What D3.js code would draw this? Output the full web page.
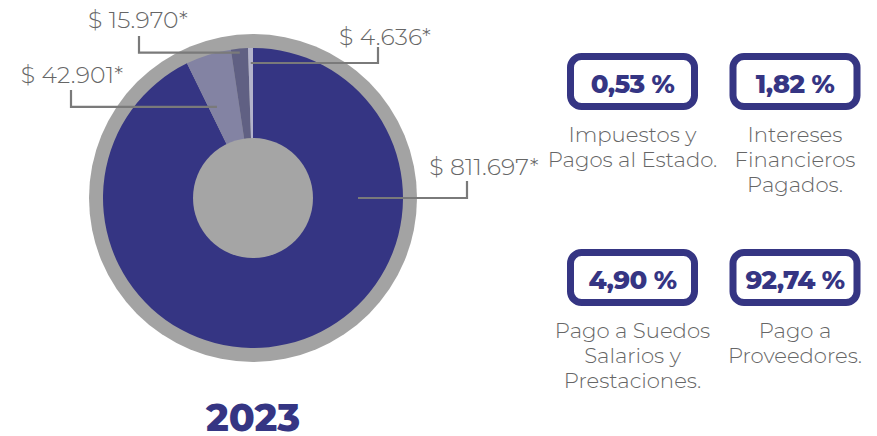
<!DOCTYPE html>
<html><head><meta charset="utf-8">
<script src="https://cdn.jsdelivr.net/npm/d3@7/dist/d3.min.js"></script>
<style>body{margin:0;background:#fff}svg{display:block}</style>
</head><body>
<svg id="c" width="877" height="436"></svg>
<script>
const categories = ["Pago a Proveedores.", "Pago a Suedos Salarios y Prestaciones.", "Intereses Financieros Pagados.", "Impuestos y Pagos al Estado."];
const values = [811697, 42901, 15970, 4636];
const valueLabels = ["$ 811.697*", "$ 42.901*", "$ 15.970*", "$ 4.636*"];
const percentLabels = ["92,74 %", "4,90 %", "1,82 %", "0,53 %"];
const cardLines = [["Pago a", "Proveedores."], ["Pago a Suedos", "Salarios y", "Prestaciones."], ["Intereses", "Financieros", "Pagados."], ["Impuestos y", "Pagos al Estado."]];
const yearLabel = "2023";
const sliceColors = ["#353583", "#8383a3", "#606083", "#b3b3cb"];

const svg = d3.select("#c");
const cx = 253, cy = 198;
const g = svg.append("g").attr("transform", `translate(${cx},${cy})`);
g.append("circle").attr("r", 164).attr("fill", "#a3a3a3");
const pie = d3.pie().sort(null).value(d => d)(values);
const arc = d3.arc().innerRadius(0).outerRadius(150);
g.selectAll("path.s").data(pie).join("path").attr("class", "s")
  .attr("d", arc).attr("fill", (d, i) => sliceColors[i]);
g.append("circle").attr("r", 60).attr("fill", "#a5a5a5");

const font = "Montserrat, 'Open Sans', sans-serif";
// leader lines: anchor radius / optional angle override (deg), elbow x, end y
const leaders = [
  {r: 105, ang: 90, ex: 467, ey: 181, tx: 484, ty: 175},
  {r: 98, ang: 338.4, ex: 71, ey: 90, tx: 72, ty: 83},
  {r: 146, ang: null, ex: 139, ey: 36, tx: 138, ty: 28},
  {r: 135, ang: null, ex: 378, ey: 47, tx: 385, ty: 45}
];
pie.forEach((d, i) => {
  const L = leaders[i];
  const a = L.ang != null ? L.ang * Math.PI / 180 : (d.startAngle + d.endAngle) / 2;
  const x0 = cx + L.r * Math.sin(a), y0 = cy - L.r * Math.cos(a);
  svg.append("path").attr("d", `M${x0},${y0}H${L.ex}V${L.ey}`)
    .attr("fill", "none").attr("stroke", "#7a7a7a").attr("stroke-width", 2.2);
  svg.append("text").attr("x", L.tx).attr("y", L.ty).attr("text-anchor", "middle")
    .attr("font-family", font).attr("font-weight", 300)
    .attr("font-size", 23.5).attr("letter-spacing", 0.2).attr("fill", "#666").text(valueLabels[i]);
});

const cards = [
  {i: 3, x: 632.5, y: 53}, {i: 2, x: 795, y: 53},
  {i: 1, x: 632.5, y: 249}, {i: 0, x: 795, y: 249}
];
cards.forEach(c => {
  svg.append("rect").attr("x", c.x - 62).attr("y", c.y + 3.5).attr("width", 124).attr("height", 50)
    .attr("rx", 11).attr("fill", "#fff").attr("stroke", "#353583").attr("stroke-width", 7);
  svg.append("text").attr("x", c.x).attr("y", c.y + 40).attr("text-anchor", "middle")
    .attr("font-family", font).attr("font-weight", 800)
    .attr("font-size", 26).attr("letter-spacing", -0.6).attr("fill", "#353583").text(percentLabels[c.i]);
  cardLines[c.i].forEach((t, k) => {
    svg.append("text").attr("x", c.x).attr("y", c.y + 89 + k * 25).attr("text-anchor", "middle")
      .attr("font-family", font).attr("font-weight", 300)
      .attr("font-size", 21.2).attr("fill", "#666").text(t);
  });
});

svg.append("text").attr("x", cx).attr("y", 431).attr("text-anchor", "middle")
  .attr("font-family", font).attr("font-weight", 800)
  .attr("font-size", 38).attr("fill", "#353583").text(yearLabel);
</script>
</body></html>
